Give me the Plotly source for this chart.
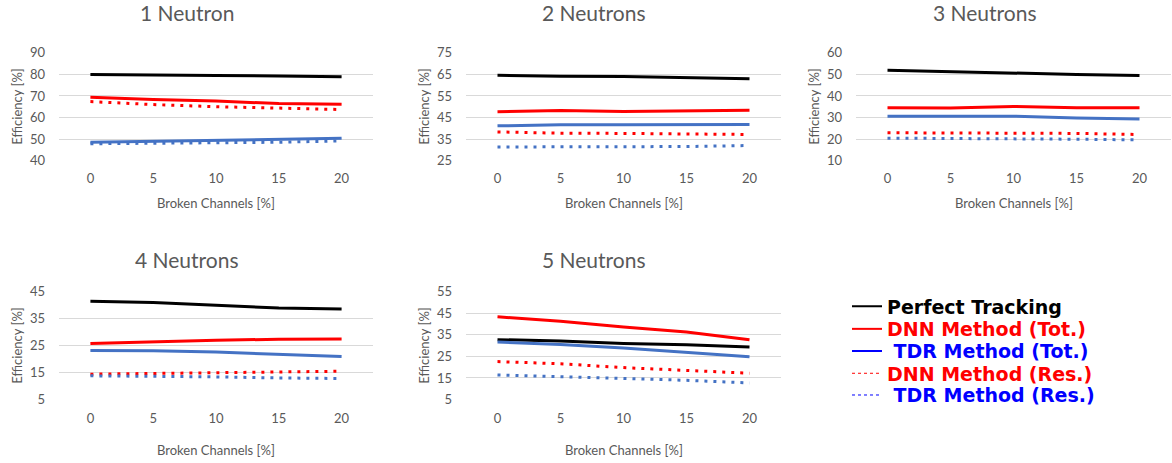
import plotly.graph_objects as go

# Broken-channel fractions [%] shared by every panel
broken = [0, 5, 10, 15, 20]

panel_titles = ["1 Neutron", "2 Neutrons", "3 Neutrons", "4 Neutrons", "5 Neutrons"]

# Efficiency [%] per panel: perfect tracking, DNN total, TDR total, DNN residual, TDR residual
perfect = [
    [80.0, 79.6, 79.5, 79.3, 78.9],
    [64.6, 64.1, 64.0, 63.6, 63.0],
    [51.9, 51.2, 50.6, 50.0, 49.5],
    [41.5, 41.0, 40.0, 39.0, 38.6],
    [32.8, 32.2, 31.0, 30.4, 29.4],
]
dnn_tot = [
    [69.4, 68.3, 67.6, 66.5, 66.1],
    [47.7, 48.2, 47.8, 48.0, 48.3],
    [34.5, 34.4, 35.1, 34.5, 34.5],
    [25.8, 26.5, 27.0, 27.4, 27.5],
    [43.4, 41.3, 38.7, 36.3, 32.7],
]
tdr_tot = [
    [48.5, 49.0, 49.2, 49.8, 50.3],
    [41.1, 41.6, 41.6, 41.6, 41.7],
    [30.6, 30.6, 30.6, 29.8, 29.3],
    [23.2, 23.1, 22.6, 21.8, 21.0],
    [31.7, 30.5, 28.9, 27.0, 24.9],
]
dnn_res = [
    [67.4, 66.0, 65.0, 64.2, 63.7],
    [38.3, 37.7, 37.6, 37.3, 37.1],
    [22.9, 22.8, 22.8, 22.6, 22.1],
    [14.4, 14.7, 15.0, 15.4, 15.5],
    [22.6, 21.6, 19.8, 18.6, 17.2],
]
tdr_res = [
    [47.8, 48.0, 48.1, 48.5, 49.1],
    [31.3, 31.3, 31.4, 31.5, 32.0],
    [20.4, 20.3, 20.2, 19.9, 19.6],
    [13.8, 13.7, 13.4, 13.0, 12.8],
    [16.4, 15.7, 14.8, 13.9, 12.7],
]

# y-axis ranges and tick steps of the five panels
y_ranges = [[40, 90], [25, 75], [10, 60], [5, 45], [5, 55]]
y_tick_step = 10

legend_names = [
    "Perfect Tracking",
    "DNN Method (Tot.)",
    "\u00a0TDR Method (Tot.)",
    "DNN Method (Res.)",
    "\u00a0TDR Method (Res.)",
]

W, H = 1172, 463
BLACK, RED, BLUE = "#000000", "#FF0000", "#4472C4"
LEGEND_BLUE = "#0000FF"
TEXT_GREY = "#595959"
GRID = "#D9D9D9"
FONT = "Lato"


def px_x(p):
    return p / W


def px_y(p):
    return 1 - p / H


# plot-area boxes in pixels: (left, right, top, bottom)
boxes = [
    (59, 373, 46.5, 158),
    (466, 781, 46.5, 158),
    (856, 1171, 46.5, 158),
    (59, 373, 294, 405.5),
    (466, 781, 294, 405.5),
]
title_pos = [(187, 5), (594, 5), (985, 5), (187, 260), (594, 260)]
xtitle_offset = [44, 44, 44, 52, 52]

fig = go.Figure()

series_style = [
    (perfect, BLACK, "solid"),
    (dnn_tot, RED, "solid"),
    (tdr_tot, BLUE, "solid"),
    (dnn_res, RED, "3px,6px"),
    (tdr_res, BLUE, "3px,6px"),
]

for i in range(5):
    suffix = "" if i == 0 else str(i + 1)
    for data, color, dash in series_style:
        fig.add_trace(go.Scatter(
            x=broken, y=data[i], mode="lines",
            line=dict(color=color, width=3, dash=dash),
            xaxis="x" + suffix, yaxis="y" + suffix,
            showlegend=False, hoverinfo="skip",
        ))

    left, right, top, bottom = boxes[i]
    fig.layout["xaxis" + suffix] = dict(
        domain=[px_x(left), px_x(right)],
        anchor="y" + suffix,
        range=[-2.5, 22.5],
        tickvals=broken,
        showgrid=False, zeroline=False, showline=False,
        ticks="", ticklabelstandoff=8 if i < 3 else 10,
        tickfont=dict(family=FONT, size=13, color=TEXT_GREY),
        fixedrange=True,
    )
    lo, hi = y_ranges[i]
    fig.layout["yaxis" + suffix] = dict(
        domain=[px_y(bottom), px_y(top)],
        anchor="x" + suffix,
        range=[lo, hi],
        tick0=lo, dtick=y_tick_step,
        showgrid=True, gridcolor=GRID, gridwidth=1,
        zeroline=False, showline=False,
        ticks="", ticklabelstandoff=13,
        tickfont=dict(family=FONT, size=13, color=TEXT_GREY),
        fixedrange=True,
    )

    # panel title and axis titles
    tx, ty = title_pos[i]
    fig.add_annotation(
        text=panel_titles[i], xref="paper", yref="paper",
        x=px_x(tx), y=px_y(ty), showarrow=False,
        xanchor="center", yanchor="middle",
        font=dict(family=FONT, size=21, color=TEXT_GREY),
    )
    fig.add_annotation(
        text="Broken Channels [%]", xref="paper", yref="paper",
        x=px_x((left + right) / 2), y=px_y(bottom + xtitle_offset[i]),
        showarrow=False, xanchor="center", yanchor="middle",
        font=dict(family=FONT, size=13, color=TEXT_GREY),
    )
    fig.add_annotation(
        text="Efficiency [%]", xref="paper", yref="paper",
        x=px_x(left - 42), y=px_y((top + bottom) / 2), showarrow=False,
        textangle=-90, xanchor="center", yanchor="middle",
        font=dict(family=FONT, size=13, color=TEXT_GREY),
    )

# legend: one single-entry legend per series so each row can be placed
# and coloured on its own
legend_style = [
    (BLACK, "solid", 2, BLACK),
    (RED, "solid", 2, RED),
    (LEGEND_BLUE, "solid", 2, LEGEND_BLUE),
    (RED, "dot", 1, RED),
    (LEGEND_BLUE, "dot", 1, LEGEND_BLUE),
]
legend_rows = [309, 332.5, 355.5, 378.5, 401]
layout_legends = {}
for k, (name, (lcolor, ldash, lwidth, tcolor)) in enumerate(zip(legend_names, legend_style)):
    key = "legend" if k == 0 else "legend%d" % (k + 1)
    fig.add_trace(go.Scatter(
        x=[None], y=[None], mode="lines",
        line=dict(color=lcolor, width=lwidth, dash=ldash),
        name=name, legend=key,
        showlegend=True, hoverinfo="skip",
    ))
    layout_legends[key] = dict(
        x=px_x(847), y=px_y(legend_rows[k]), xanchor="left", yanchor="middle",
        font=dict(family="DejaVu Sans", size=19, color=tcolor, weight="bold"),
        bgcolor="rgba(0,0,0,0)", borderwidth=0, itemwidth=30,
    )

fig.update_layout(
    width=W, height=H,
    margin=dict(l=0, r=0, t=0, b=0),
    paper_bgcolor="white", plot_bgcolor="white",
    showlegend=True,
    **layout_legends,
)

fig.write_html("out.html")
